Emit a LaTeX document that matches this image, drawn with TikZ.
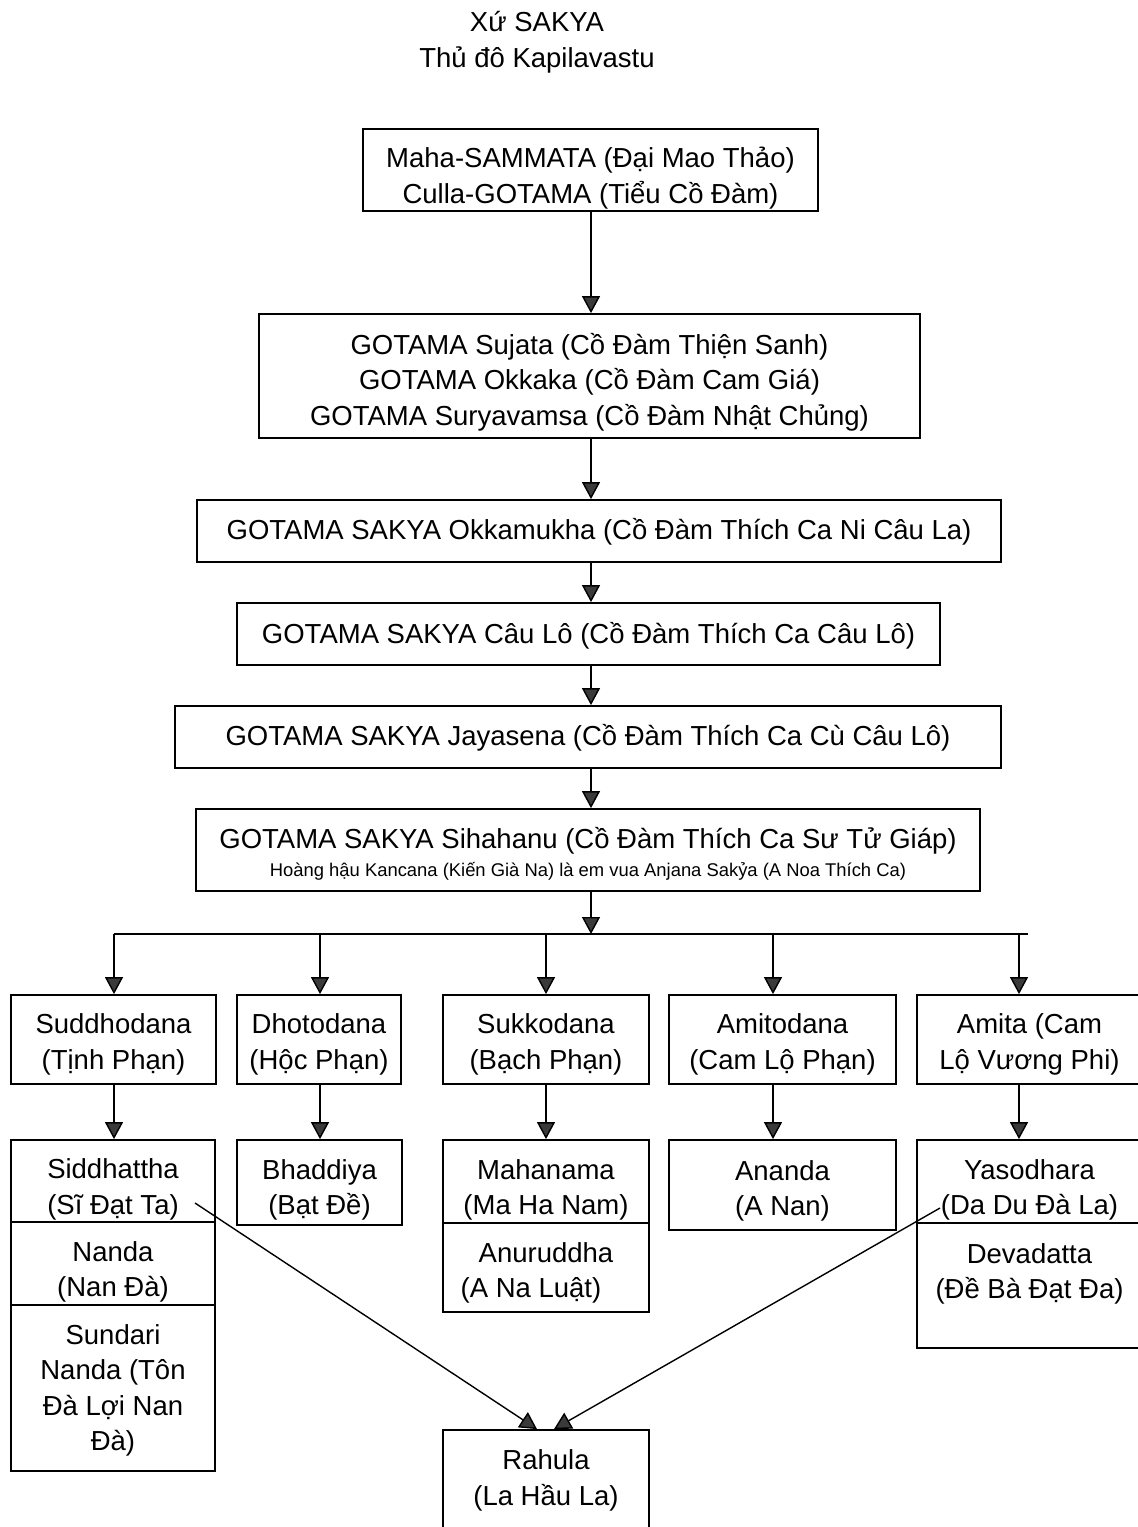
\documentclass[tikz,border=0pt]{standalone}
\usepackage{fontspec}
\setmainfont{Liberation Sans}
\usetikzlibrary{arrows.meta}
\definecolor{tipgray}{HTML}{3A3A3A}
% \bx{name}{left}{top}{right}{bottom}{text centre y}{text}
\newcommand\bx[7]{%
  \node[box, minimum width={(#4-#2)*1pt}, minimum height={(#5-#3)*1pt}] (#1) at ({(#2+#4)/2},{(#3+#5)/2}) {};
  \node[txt] (#1-t) at ({(#2+#4)/2},#6) {#7};}
\begin{document}
\begin{tikzpicture}[x=1pt,y=-1pt,
  box/.style={draw=black, line width=1.8pt, fill=white, inner sep=0pt},
  txt/.style={inner sep=0pt, align=center, font=\fontsize{27.5}{35.5}\selectfont},
  conn/.style={line width=1.4pt, -{Triangle[width=18pt,length=17pt,fill=tipgray]}},
  line/.style={line width=1.4pt}]
\useasboundingbox (0,0) rectangle (1138,1527);
\clip (0,0) rectangle (1138,1527);
\fill[white] (0,0) rectangle (1138,1527);

\node[txt, font=\fontsize{27.5}{36}\selectfont] (title) at (537,42) {Xứ SAKYA\\Thủ đô Kapilavastu};

\bx{b1}{363}{129}{818}{211}{178}{Maha-SAMMATA (Đại Mao Thảo)\\Culla-GOTAMA (Tiểu Cồ Đàm)}
\bx{b2}{259}{314}{920}{438}{382}{GOTAMA Sujata (Cồ Đàm Thiện Sanh)\\GOTAMA Okkaka (Cồ Đàm Cam Giá)\\GOTAMA Suryavamsa (Cồ Đàm Nhật Chủng)}
\bx{b3}{197}{500}{1001}{562}{532}{GOTAMA SAKYA Okkamukha (Cồ Đàm Thích Ca Ni Câu La)}
\bx{b4}{237}{603}{940}{665}{636}{GOTAMA SAKYA Câu Lô (Cồ Đàm Thích Ca Câu Lô)}
\bx{b5}{175}{706}{1001}{768}{738}{GOTAMA SAKYA Jayasena (Cồ Đàm Thích Ca Cù Câu Lô)}
\bx{b6}{196}{809}{980}{891}{854}{GOTAMA SAKYA Sihahanu (Cồ Đàm Thích Ca Sư Tử Giáp)\\[-8pt]
   {\fontsize{18.4}{21}\selectfont Hoàng hậu Kancana (Kiến Già Na) là em vua Anjana Sakỷa (A Noa Thích Ca)}}

% row 1
\bx{sudd}{11}{995}{216}{1084}{1044.5}{Suddhodana\\(Tịnh Phạn)}
\bx{dhot}{237}{995}{401}{1084}{1044.5}{Dhotodana\\(Hộc Phạn)}
\bx{sukk}{443}{995}{649}{1084}{1044.5}{Sukkodana\\(Bạch Phạn)}
\bx{amit}{669}{995}{896}{1084}{1044.5}{Amitodana\\(Cam Lộ Phạn)}
\bx{amita}{917}{995}{1142}{1084}{1044.5}{Amita (Cam\\Lộ Vương Phi)}

% row 2
\bx{sidd}{11}{1140}{215}{1222}{1189.5}{Siddhattha\\(Sĩ Đạt Ta)}
\bx{nanda}{11}{1222}{215}{1305}{1272}{Nanda\\(Nan Đà)}
\bx{sund}{11}{1305}{215}{1471}{1390.5}{Sundari\\Nanda (Tôn\\Đà Lợi Nan\\Đà)}
\bx{bhad}{237}{1140}{402}{1225}{1190}{Bhaddiya\\(Bạt Đề)}
\bx{maha}{443}{1140}{649}{1223}{1190}{Mahanama\\(Ma Ha Nam)}
\bx{anur}{443}{1223}{649}{1312}{1273}{Anuruddha\\(A Na Luật)\hspace*{30pt}}
\bx{anan}{669}{1140}{896}{1230}{1191}{Ananda\\(A Nan)}
\bx{yaso}{917}{1140}{1142}{1223}{1190}{Yasodhara\\(Da Du Đà La)}
\bx{deva}{917}{1223}{1142}{1348}{1274}{Devadatta\\(Đề Bà Đạt Đa)}
\bx{rahu}{443}{1430}{649}{1540}{1480.5}{Rahula\\(La Hầu La)}

% chain
\coordinate (cx) at (591,0);
\draw[conn] (cx |- b1.south) -- (cx |- b2.north);
\draw[conn] (cx |- b2.south) -- (cx |- b3.north);
\draw[conn] (cx |- b3.south) -- (cx |- b4.north);
\draw[conn] (cx |- b4.south) -- (cx |- b5.north);
\draw[conn] (cx |- b5.south) -- (cx |- b6.north);

% bus
\coordinate (busL) at (114,934);
\coordinate (busR) at (1028,934);
\coordinate (busM) at (591,934);
\coordinate (d1) at (114,934);
\coordinate (d2) at (320,934);
\coordinate (d3) at (546,934);
\coordinate (d4) at (773,934);
\coordinate (d5) at (1019,934);
\draw[conn] (busM |- b6.south) -- (busM);
\draw[line] (busL) -- (busR);
\draw[conn] (d1) -- (d1 |- sudd.north);
\draw[conn] (d2) -- (d2 |- dhot.north);
\draw[conn] (d3) -- (d3 |- sukk.north);
\draw[conn] (d4) -- (d4 |- amit.north);
\draw[conn] (d5) -- (d5 |- amita.north);

% parent to child
\draw[conn] (d1 |- sudd.south) -- (d1 |- sidd.north);
\draw[conn] (d2 |- dhot.south) -- (d2 |- bhad.north);
\draw[conn] (d3 |- sukk.south) -- (d3 |- maha.north);
\draw[conn] (d4 |- amit.south) -- (d4 |- anan.north);
\draw[conn] (d5 |- amita.south) -- (d5 |- yaso.north);

% to Rahula
\coordinate (s1) at (195,1203);
\coordinate (s2) at (940,1208);
\coordinate (r1) at (537,1430);
\coordinate (r2) at (554,1430);
\draw[conn] (s1) -- (r1 |- rahu.north);
\draw[conn] (s2) -- (r2 |- rahu.north);
\end{tikzpicture}
\end{document}
